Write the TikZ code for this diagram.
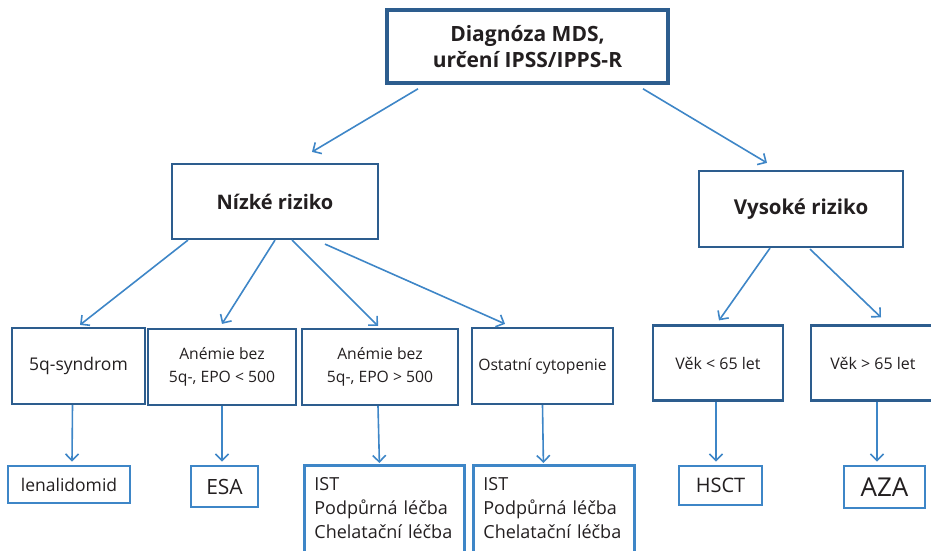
\documentclass[tikz,border=0pt]{standalone}
\usepackage{fontspec}
\setmainfont{Open Sans}
\usetikzlibrary{arrows.meta}
\definecolor{Frame}{HTML}{2D5D8E}
\definecolor{Light}{HTML}{3E86C7}
\definecolor{Ink}{HTML}{231F20}
\newcommand{\fs}[2]{\fontsize{#1}{#2}\selectfont}

\begin{document}
\begin{tikzpicture}[x=1pt,y=-1pt,
  box/.style={draw=Frame,line width=2.2pt,text=Ink,align=center,inner sep=0pt},
  leaf/.style={draw=Light,line width=2.8pt,text=Ink,inner sep=0pt},
  arr/.style={Light,line width=1.6pt,-{Straight Barb[length=6.5pt,width=13pt]}}]
  \useasboundingbox (0,0) rectangle (931,551);
  % diagnosis and risk groups
  \node[box,line width=3.6pt,minimum width=281,minimum height=73,font=\bfseries\fs{21}{26}] (diag) at (527.5,46.5) {Diagnóza MDS,\\určení IPSS/IPPS-R};
  \node[box,minimum width=206,minimum height=75,font=\bfseries\fs{20}{24}] (low) at (275,201.5) {Nízké riziko};
  \node[box,minimum width=204,minimum height=76,font=\bfseries\fs{20.5}{24}] (high) at (801,209) {Vysoké riziko};
  % subgroups
  \node[box,minimum width=133,minimum height=76,font=\fs{17.5}{22}] (s5q) at (78.5,366) {5q-syndrom};
  \node[box,minimum width=148,minimum height=76,font=\fs{15.7}{23}] (aneA) at (222,367) {Anémie bez\\5q-, EPO < 500};
  \node[box,minimum width=156,minimum height=76,font=\fs{15.7}{23}] (aneB) at (380,367) {Anémie bez\\5q-, EPO > 500};
  \node[box,minimum width=141,minimum height=76,font=\fs{15.7}{22}] (ost) at (542.5,366) {Ostatní cytopenie};
  \node[box,minimum width=130,minimum height=75,font=\fs{16}{22}] (vek1) at (718,363) {Věk < 65 let};
  \node[box,minimum width=124,minimum height=75,font=\fs{16}{22}] (vek2) at (873,363) {Věk > 65 let};
  % treatment
  \node[leaf,minimum width=122,minimum height=37,font=\fs{17.5}{22}] (lena) at (69,484.5) {lenalidomid};
  \node[leaf,minimum width=67,minimum height=41,font=\fs{21}{24}] (esa) at (224.5,486.5) {ESA};
  \node[leaf,anchor=north west,text width=140,align=left,inner xsep=10,inner ysep=12,font=\fs{18}{24}] (ist1) at (303,464) {IST\\Podpůrná léčba\\Chelatační léčba\rule[-14pt]{0pt}{1pt}};
  \node[leaf,anchor=north west,text width=141,align=left,inner xsep=10,inner ysep=12,font=\fs{18}{24}] (ist2) at (472,464) {IST\\Podpůrná léčba\\Chelatační léčba\rule[-14pt]{0pt}{1pt}};
  \node[leaf,minimum width=83,minimum height=39,font=\fs{20}{24}] (hsct) at (720.5,485.5) {HSCT};
  \node[leaf,minimum width=81,minimum height=42,font=\fs{26}{28}] (aza) at (884.5,487) {AZA};
  % arrows
  \draw[arr] ([shift={(-109.5,4)}]diag.south) -- ([shift={(37,-11)}]low.north);
  \draw[arr] ([shift={(115.5,4)}]diag.south) -- ([shift={(-34,-7)}]high.north);
  \draw[arr] ([shift={(-87,0)}]low.south) -- ([shift={(1.5,-2)}]s5q.north);
  \draw[arr] (low.south) -- ([shift={(0,-4)}]aneA.north);
  \draw[arr] ([shift={(17,0)}]low.south) -- ([shift={(-2,-2)}]aneB.north);
  \draw[arr] ([shift={(50,4)}]low.south) -- ([shift={(-37.5,-3)}]ost.north);
  \draw[arr] ([shift={(-31,0)}]high.south) -- ([shift={(1,-4)}]vek1.north);
  \draw[arr] ([shift={(9,1)}]high.south) -- ([shift={(8,-7)}]vek2.north);
  \draw[arr] ([shift={(-6,0)}]s5q.south) -- ([shift={(3,-3)}]lena.north);
  \draw[arr] (aneA.south) -- ([shift={(-2.5,-3)}]esa.north);
  \draw[arr] ([shift={(-2,0)}]aneB.south) -- ([shift={(-5,-1)}]ist1.north);
  \draw[arr] (ost.south) -- ([shift={(-10.5,-1)}]ist2.north);
  \draw[arr] ([shift={(-2,0)}]vek1.south) -- ([shift={(-4.5,-3)}]hsct.north);
  \draw[arr] ([shift={(4,0)}]vek2.south) -- ([shift={(-7.5,-3)}]aza.north);
\end{tikzpicture}
\end{document}
